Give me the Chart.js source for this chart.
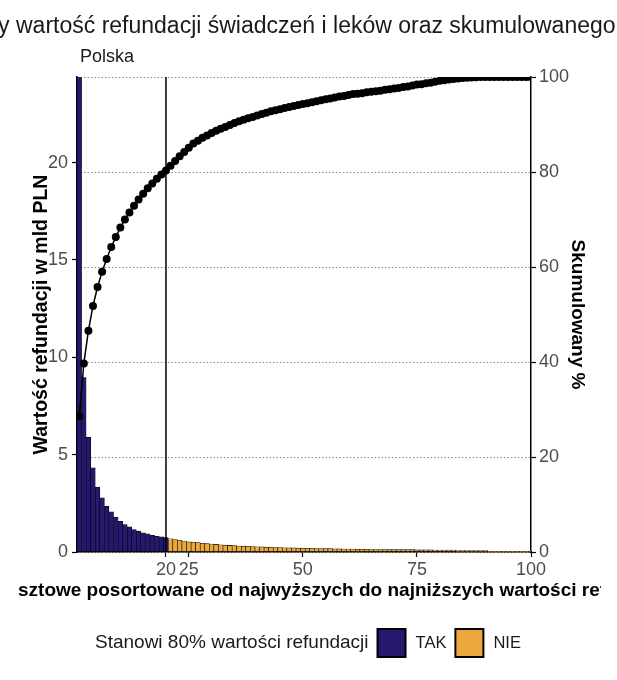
<!DOCTYPE html>
<html lang="pl">
<head>
<meta charset="utf-8">
<title>Refundacja - Pareto</title>
<script src="https://cdn.jsdelivr.net/npm/chart.js@4.4.1/dist/chart.umd.min.js"></script>
<style>
  html, body { margin: 0; padding: 0; background: #fff; overflow: hidden; }
  #wrap { position: relative; width: 617px; height: 680px; }
</style>
</head>
<body>
<div id="wrap"><canvas id="paretoChart"></canvas></div>
<script>
const FONT = "'Liberation Sans', Arial, Helvetica, sans-serif";

const titleText = 'Wykres przedstawiający wartość refundacji świadczeń i leków oraz skumulowanego udziału';
const titleHidden = 'Wykres przedstawiający ';
const subtitleText = 'Polska';
const xTitleText = 'Grupy kosztowe posortowane od najwyższych do najniższych wartości refundacji';
const xTitleHidden = 'Grupy ko';
const yTitleText = 'Wartość refundacji w mld PLN';
const y2TitleText = 'Skumulowany %';

const legendTitle = 'Stanowi 80% wartości refundacji';
const legendLabels = ['TAK', 'NIE'];
const legendColors = ['#24196f', '#eca83c'];

const xTicks = [20, 25, 50, 75, 100];
const yTicks = [0, 5, 10, 15, 20];
const y2Ticks = [0, 20, 40, 60, 80, 100];
const cutoffRank = 20;

// refundacja w mld PLN, od najwyższej
const refundValues = [
  24.6, 8.96, 5.89, 4.32, 3.34, 2.78, 2.35, 2.06, 1.80, 1.58,
  1.41, 1.29, 1.15, 1.07, 0.98, 0.93, 0.86, 0.81, 0.78, 0.74,
  0.68, 0.64, 0.60, 0.56, 0.52, 0.50, 0.48, 0.45, 0.43, 0.41,
  0.39, 0.37, 0.35, 0.34, 0.33, 0.31, 0.30, 0.29, 0.28, 0.27,
  0.26, 0.25, 0.24, 0.23, 0.23, 0.22, 0.21, 0.21, 0.20, 0.20,
  0.19, 0.19, 0.18, 0.18, 0.17, 0.17, 0.16, 0.16, 0.15, 0.15,
  0.15, 0.14, 0.14, 0.14, 0.13, 0.13, 0.13, 0.12, 0.12, 0.12,
  0.12, 0.12, 0.12, 0.12, 0.11, 0.11, 0.11, 0.11, 0.10, 0.10,
  0.10, 0.10, 0.10, 0.07, 0.07, 0.07, 0.07, 0.07, 0.07, 0.07,
  0.02, 0.02, 0.02, 0.02, 0.02, 0.02, 0.02, 0.02, 0.02, 0.02
];

// skumulowany udział w %
const cumulativePct = [
  28.6, 39.7, 46.6, 51.8, 55.8, 59.0, 61.7, 64.2, 66.3, 68.3,
  70.0, 71.5, 72.9, 74.2, 75.4, 76.6, 77.6, 78.6, 79.5, 80.3,
  81.3, 82.3, 83.3, 84.2, 85.1, 86.0, 86.6, 87.2, 87.7, 88.2,
  88.7, 89.1, 89.5, 89.9, 90.3, 90.7, 91.0, 91.3, 91.6, 91.9,
  92.2, 92.5, 92.8, 93.0, 93.2, 93.5, 93.7, 93.9, 94.1, 94.3,
  94.5, 94.7, 94.9, 95.1, 95.3, 95.5, 95.7, 95.9, 96.0, 96.2,
  96.4, 96.5, 96.6, 96.8, 96.9, 97.0, 97.1, 97.3, 97.4, 97.6,
  97.7, 97.9, 98.0, 98.2, 98.4, 98.5, 98.7, 98.8, 99.0, 99.2,
  99.3, 99.5, 99.6, 99.7, 99.8, 99.85, 99.9, 99.95, 100, 100,
  100, 100, 100, 100, 100, 100, 100, 100, 100, 100
];

const ranks = refundValues.map((v, i) => i + 1);

const fixTicks = list => scale => { scale.ticks = list.map(v => ({ value: v })); };

const textPlugin = {
  id: 'textPlugin',
  afterDraw(chart) {
    const ctx = chart.ctx;
    ctx.save();
    ctx.textBaseline = 'middle';
    ctx.textAlign = 'left';

    ctx.fillStyle = '#1a1a1a';
    ctx.font = '23px ' + FONT;
    ctx.fillText(titleText, 16 - ctx.measureText(titleHidden).width, 27);

    ctx.font = '18px ' + FONT;
    ctx.fillText(subtitleText, 80, 57);

    // tytuł osi X przycięty jak w oryginale
    ctx.save();
    ctx.beginPath();
    ctx.rect(18, 570, 583, 40);
    ctx.clip();
    ctx.fillStyle = '#000';
    ctx.font = 'bold 19px ' + FONT;
    ctx.fillText(xTitleText, 18 - ctx.measureText(xTitleHidden).width, 591);
    ctx.restore();

    // legenda
    const ly = 643;
    ctx.fillStyle = '#1a1a1a';
    ctx.font = '19px ' + FONT;
    let x = 95;
    ctx.fillText(legendTitle, x, ly);
    x += ctx.measureText(legendTitle).width + 9;
    ctx.font = '16.5px ' + FONT;
    legendLabels.forEach((lab, i) => {
      ctx.fillStyle = legendColors[i];
      ctx.fillRect(x, ly - 14, 28, 28);
      ctx.lineWidth = 2;
      ctx.strokeStyle = '#000';
      ctx.strokeRect(x, ly - 14, 28, 28);
      x += 28 + 10;
      ctx.fillStyle = '#1a1a1a';
      ctx.fillText(lab, x, ly);
      x += ctx.measureText(lab).width + 9;
    });
    ctx.restore();
  }
};

const ctx = document.getElementById('paretoChart').getContext('2d');
const chart = new Chart(ctx, {
  data: {
    datasets: [
      {
        type: 'line',
        label: 'granica',
        data: [{ x: cutoffRank, y: 0 }, { x: cutoffRank, y: 100 }],
        yAxisID: 'y2',
        borderColor: '#000',
        borderWidth: 1.5,
        pointRadius: 0,
        order: 0,
        clip: 0
      },
      {
        type: 'line',
        label: 'Skumulowany %',
        data: ranks.map((r, i) => ({ x: r, y: cumulativePct[i] })),
        yAxisID: 'y2',
        borderColor: '#000',
        borderWidth: 1.5,
        pointRadius: 4,
        pointBackgroundColor: '#000',
        pointBorderColor: '#000',
        pointBorderWidth: 0,
        tension: 0,
        order: 1,
        clip: 0
      },
      {
        type: 'bar',
        label: 'Refundacja',
        data: ranks.map((r, i) => ({ x: r, y: refundValues[i] })),
        yAxisID: 'y',
        backgroundColor: ranks.map(r => r <= cutoffRank ? legendColors[0] : legendColors[1]),
        borderColor: '#000',
        borderWidth: 0.6,
        borderSkipped: false,
        barPercentage: 1,
        categoryPercentage: 1,
        order: 2,
        clip: 0
      }
    ]
  },
  options: {
    responsive: true,
    maintainAspectRatio: false,
    animation: false,
    layout: { padding: { top: 77, left: 0, right: 0, bottom: 78 } },
    plugins: { legend: { display: false }, tooltip: { enabled: false } },
    scales: {
      x: {
        type: 'linear',
        min: 0.5,
        max: 100,
        offset: false,
        afterBuildTicks: fixTicks(xTicks),
        afterFit: s => { s.height = 50; },
        grid: { offset: false, drawOnChartArea: false, drawTicks: true, tickLength: 5, tickColor: '#000', tickWidth: 1.2 },
        border: { display: true, color: '#000', width: 1.5 },
        ticks: { color: '#4d4d4d', font: { family: FONT, size: 18 }, padding: 2, maxRotation: 0, autoSkip: false }
      },
      y: {
        type: 'linear',
        position: 'left',
        min: 0,
        max: 24.4,
        afterBuildTicks: fixTicks(yTicks),
        afterFit: s => { s.width = 77; },
        grid: { drawOnChartArea: false, drawTicks: true, tickLength: 5, tickColor: '#000', tickWidth: 1.2 },
        border: { display: true, color: '#000', width: 1.5 },
        ticks: { color: '#4d4d4d', font: { family: FONT, size: 18 }, padding: 4 },
        title: { display: true, text: yTitleText, color: '#000', font: { family: FONT, size: 19.5, weight: 'bold' }, padding: { top: 30, bottom: 0 } }
      },
      y2: {
        type: 'linear',
        position: 'right',
        min: 0,
        max: 100,
        afterBuildTicks: fixTicks(y2Ticks),
        afterFit: s => { s.width = 86; },
        grid: { drawOnChartArea: true, color: '#8a8a8a', lineWidth: 1, drawTicks: true, tickLength: 5, tickColor: '#000', tickWidth: 1.2, tickBorderDash: [] },
        border: { display: true, color: '#000', width: 1.5, dash: [1.5, 2] },
        ticks: { color: '#4d4d4d', font: { family: FONT, size: 18 }, padding: 3 },
        title: { display: true, text: y2TitleText, color: '#000', font: { family: FONT, size: 19, weight: 'bold' }, padding: { top: 28, bottom: 0 } }
      }
    }
  },
  plugins: [textPlugin]
});
</script>
</body>
</html>
